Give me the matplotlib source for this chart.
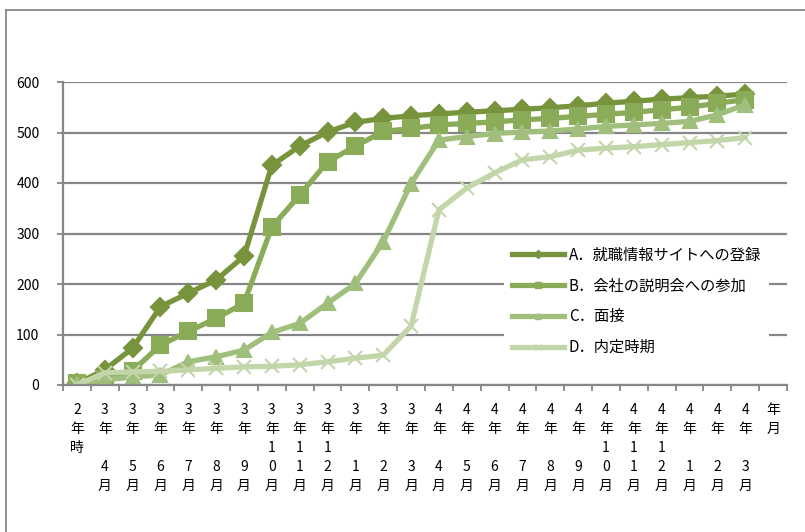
import matplotlib
matplotlib.use("Agg")
import matplotlib.pyplot as plt
from matplotlib.lines import Line2D

plt.rcParams['font.family'] = ['Noto Sans CJK JP', 'DejaVu Sans']

# 横軸の区分（縦書きにするため1文字ずつ改行）
periods = ["2年時",
           "3年4月", "3年5月", "3年6月", "3年7月", "3年8月", "3年9月",
           "3年10月", "3年11月", "3年12月", "3年1月", "3年2月", "3年3月",
           "4年4月", "4年5月", "4年6月", "4年7月", "4年8月", "4年9月",
           "4年10月", "4年11月", "4年12月", "4年1月", "4年2月", "4年3月",
           "年月"]

series_names = ["A．就職情報サイトへの登録", "B．会社の説明会への参加", "C．面接", "D．内定時期"]

site_reg = [3, 30, 73, 155, 182, 208, 255, 435, 473, 501, 520, 528, 533,
            537, 540, 543, 546, 549, 553, 558, 562, 566, 569, 572, 576]
seminar = [4, 12, 28, 79, 106, 132, 162, 313, 376, 442, 473, 502, 508,
           515, 518, 521, 525, 528, 532, 536, 540, 545, 550, 558, 565]
interview = [2, 10, 16, 20, 46, 56, 69, 104, 122, 162, 201, 284, 399,
             485, 492, 498, 501, 503, 507, 512, 515, 518, 522, 535, 555]
offer = [0, 24, 26, 27, 30, 33, 36, 37, 40, 46, 53, 59, 117,
         347, 390, 420, 446, 452, 465, 469, 472, 476, 480, 484, 490]


def vertical_label(s):
    # 年の後ろは「時」か月の十の位、無ければ空行
    if s == "年月":
        return "年\n月"
    year, rest = s.split("年")
    if rest == "時":
        return year + "\n年\n時"
    month = rest.rstrip("月")
    if len(month) == 2:
        return "\n".join([year, "年", month[0], month[1], "月"])
    return "\n".join([year, "年", " ", month, "月"])


fig = plt.figure(figsize=(8.05, 5.32), dpi=100)
ax = fig.add_axes([63 / 805, 1 - 385 / 532, (787 - 63) / 805, (385 - 82) / 532])

colors = ['#77933C', '#8AAB58', '#A0BF7C', '#C3D6AA']
markers = ['D', 's', '^', 'x']
msizes = [9, 11.5, 10, 10]
data = [site_reg, seminar, interview, offer]

x = list(range(len(site_reg)))
for vals, c, m, ms in zip(data, colors, markers, msizes):
    ax.plot(x, vals, color=c, lw=3.8, marker=m, markersize=ms,
            markerfacecolor=c, markeredgecolor=c, markeredgewidth=1.5,
            solid_capstyle='round', solid_joinstyle='round')

ax.set_xlim(-0.5, len(periods) - 0.5)
ax.set_ylim(0, 600)
ax.set_yticks(range(0, 601, 100))
ax.yaxis.grid(True, color='#868686', lw=1.6)
ax.set_axisbelow(True)

ax.set_xticks(range(len(periods)))
ax.set_xticklabels([vertical_label(p) for p in periods], fontsize=10,
                   linespacing=1.45, va='top')
ax.set_xticks([i - 0.5 for i in range(len(periods) + 1)], minor=True)
ax.tick_params(axis='x', which='major', length=0, pad=13)
ax.tick_params(axis='x', which='minor', length=4, width=1.3, color='#868686', direction='out')
ax.tick_params(axis='y', length=4, width=1.3, color='#868686', pad=13, labelsize=10)

for side in ['top', 'right']:
    ax.spines[side].set_visible(False)
for side in ['left', 'bottom']:
    ax.spines[side].set_color('#868686')
    ax.spines[side].set_linewidth(1.6)

handles = [Line2D([], [], color=c, lw=3.8, marker=m, markersize=4,
                  markerfacecolor=c, markeredgecolor=c)
           for c, m in zip(colors, markers)]
leg = ax.legend(handles, series_names, loc='upper left',
                bbox_to_anchor=(504 / 805, 1 - 239 / 532), bbox_transform=fig.transFigure,
                fontsize=11, frameon=True, facecolor='white', edgecolor='none',
                framealpha=1, fancybox=False, handlelength=3.45, handletextpad=0.3,
                labelspacing=0.9, borderpad=0.5, borderaxespad=0)

# 外枠
fig.add_artist(Line2D([6 / 805, 1], [1 - 10 / 532] * 2, color='#7F7F7F', lw=1.2))
fig.add_artist(Line2D([6 / 805] * 2, [0, 1 - 10 / 532], color='#7F7F7F', lw=1.2))

fig.savefig("out.png", dpi=100)
